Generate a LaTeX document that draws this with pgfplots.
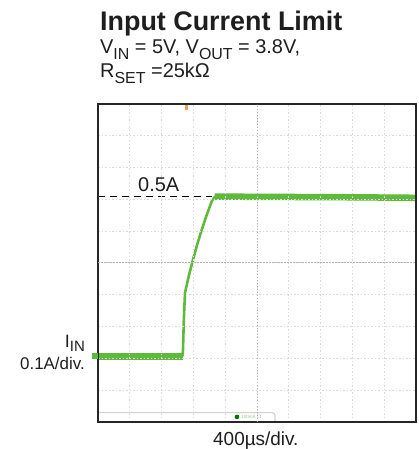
\documentclass[border=0pt]{standalone}
\usepackage{pgfplots}
\pgfplotsset{compat=1.18}
\usepackage{fontspec}
\setmainfont{Liberation Sans}

\definecolor{trace}{RGB}{95,185,60}
\definecolor{trig}{RGB}{240,160,80}
\definecolor{txt}{RGB}{30,30,30}

% small text subscript
\newcommand\sub[2]{\raisebox{-0.28em}{\fontsize{#1}{#1}\selectfont #2}}

\begin{document}
\begin{tikzpicture}
\path[use as bounding box] (0,0) rectangle (419bp,449bp);

\begin{axis}[
    at={(98bp,27bp)}, anchor=south west,
    scale only axis,
    width=318bp, height=318bp,
    xmin=0, xmax=4000,
    ymin=-0.205, ymax=0.795,
    xtick={0,400,...,4000},
    ytick={-0.105,-0.005,0.095,0.195,0.295,0.395,0.495,0.595,0.695},
    xticklabels={}, yticklabels={},
    major tick length=0pt,
    grid=major,
    major grid style={gray!30, line width=1bp, dash pattern=on 1.5bp off 2bp},
    extra x ticks={2000}, extra y ticks={0.295},
    extra x tick labels={}, extra y tick labels={},
    extra tick style={grid=major, major grid style={gray!60, line width=1bp, dash pattern=on 1.5bp off 1.5bp}},
    axis line style={black!85, line width=1.6bp},
    axis on top,
    clip=false,
]
% trace before start-up
\addplot[trace, line width=7bp, line cap=butt] coordinates {
    (0,0.002)(1063,0.002)
};
% rise into current limit
\addplot[trace, line width=2.6bp, line join=round] coordinates {
    (1063,0.002)(1069,0.021)(1080,0.120)(1094,0.201)(1140,0.252)(1195,0.306)(1250,0.355)(1308,0.402)(1370,0.448)(1434,0.491)(1472,0.504)
};
% limited current
\addplot[trace, line width=6.5bp, line cap=butt] coordinates {
    (1466,0.504)(2000,0.503)(3000,0.502)(4000,0.500)
};
% 0.5 A reference
\addplot[black, line width=1bp, dash pattern=on 7bp off 5bp] coordinates {
    (0,0.504)(1430,0.504)
};
% trigger position marker
\addplot[trig, line width=3bp] coordinates {(1107,0.795)(1107,0.776)};
% ground level marker
\addplot[only marks, mark=square*, mark size=2.5bp, trace] coordinates {(-45,0.002)};

% status tab at the bottom
\draw[gray!35, line width=1.2bp, rounded corners=3bp]
    (axis cs:0,-0.1755) -- (axis cs:2226,-0.1755) -- (axis cs:2226,-0.205);
\fill[green!45!black] (axis cs:1748,-0.189) circle (2.3bp);
\node[trace!70, font=\fontsize{4.5}{5}\selectfont, anchor=west, inner sep=0]
    at (axis cs:1800,-0.189) {100mA $\Omega$};
\end{axis}

\node[anchor=base west, inner sep=0, text=txt, font=\fontsize{27}{30}\selectfont\bfseries]
    at (100bp,418bp) {Input Current Limit};
\node[anchor=base west, inner sep=0, text=txt, font=\fontsize{20}{24}\selectfont]
    at (100bp,395bp) {V\sub{16}{IN} = 5V, V\sub{16}{OUT} = 3.8V,};
\node[anchor=base west, inner sep=0, text=txt, font=\fontsize{20}{24}\selectfont]
    at (100bp,371bp) {R\sub{16}{SET} =25kΩ};
\node[anchor=base west, inner sep=0, text=txt, font=\fontsize{20}{24}\selectfont]
    at (138bp,257bp) {0.5A};
\node[anchor=base east, inner sep=0, text=txt, font=\fontsize{18}{20}\selectfont]
    at (85bp,101bp) {I\raisebox{-0.2em}{\fontsize{15}{15}\selectfont IN}};
\node[anchor=base east, inner sep=0, text=txt, font=\fontsize{17}{20}\selectfont]
    at (85bp,79bp) {0.1A/div.};
\node[anchor=base west, inner sep=0, text=txt, font=\fontsize{19}{22}\selectfont]
    at (213bp,4bp) {400µs/div.};
\end{tikzpicture}
\end{document}
